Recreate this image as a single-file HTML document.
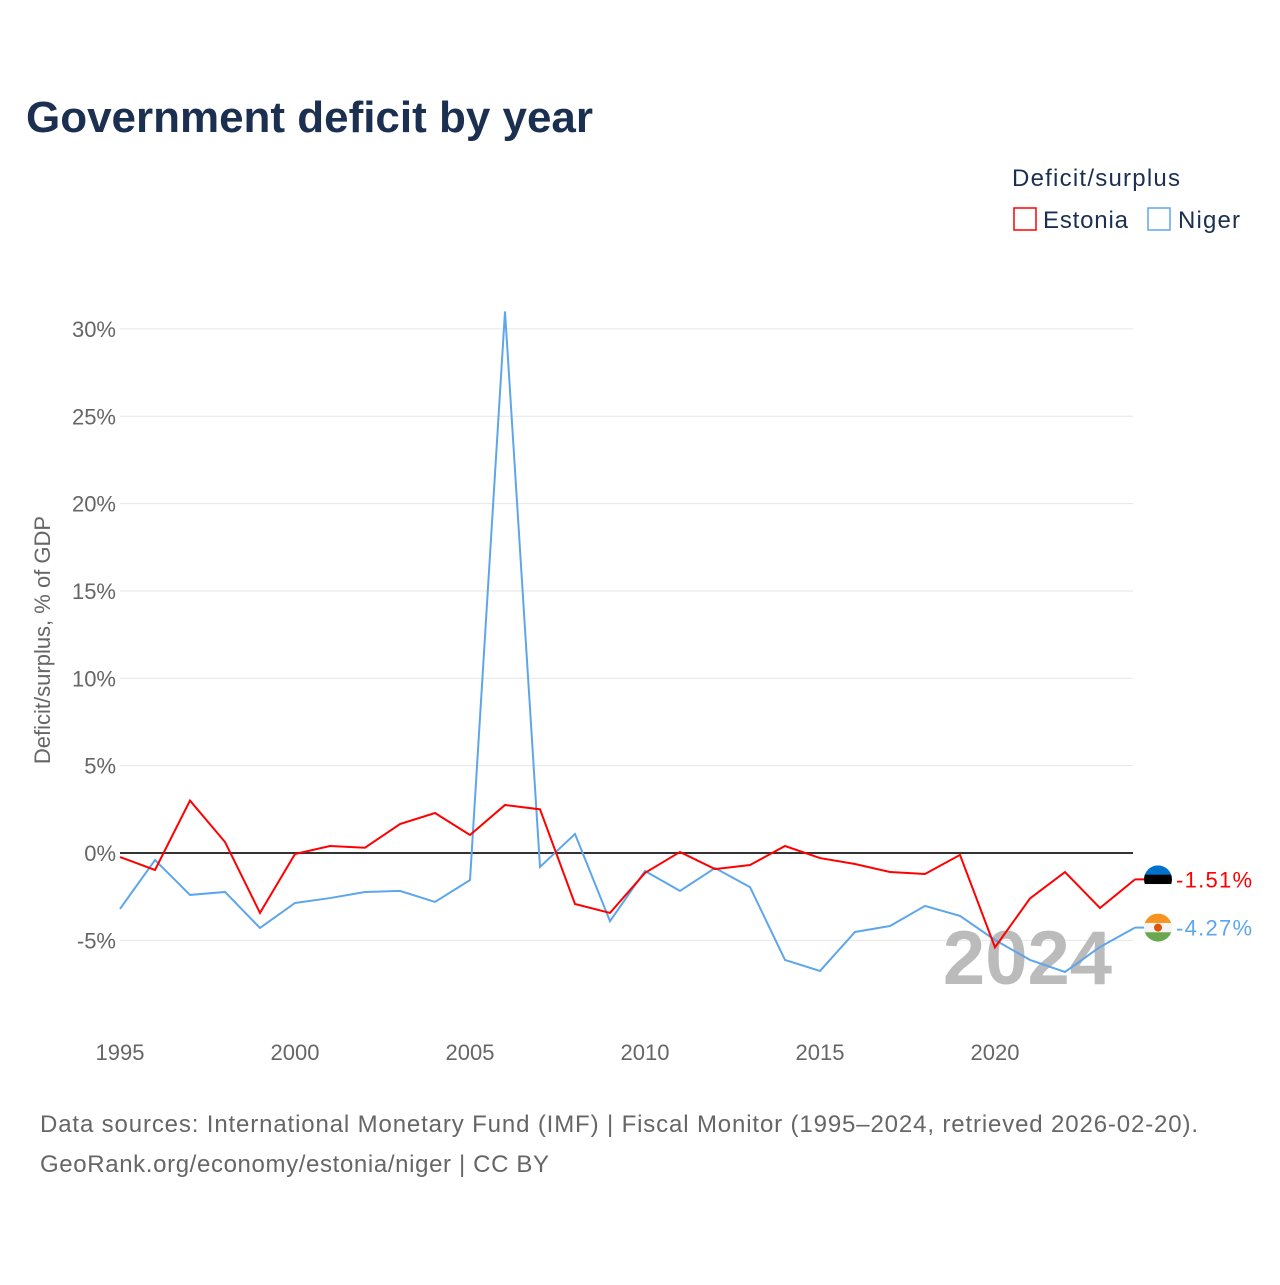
<!DOCTYPE html>
<html><head><meta charset="utf-8">
<style>
body{margin:0;background:#fff;font-family:"Liberation Sans",sans-serif;}
svg text{font-family:"Liberation Sans",sans-serif;}
</style></head>
<body>
<svg id="chart" width="1280" height="1280" viewBox="0 0 1280 1280">
<text x="26" y="132" font-size="44" font-weight="bold" fill="#1b3050" textLength="567">Government deficit by year</text>
<text x="1012" y="186" font-size="24" fill="#1b3050" textLength="168">Deficit/surplus</text>
<g>
<rect x="1014" y="208" width="22" height="22" fill="none" stroke="#ff0000" stroke-width="1.5"/>
<text x="1043" y="228" font-size="24" fill="#1b3050" textLength="85">Estonia</text></g>
<g>
<rect x="1148" y="208" width="22" height="22" fill="none" stroke="#5ea6ea" stroke-width="1.5"/>
<text x="1178" y="228" font-size="24" fill="#1b3050" textLength="62">Niger</text></g>
<text transform="translate(50,640) rotate(-90)" text-anchor="middle" font-size="22" fill="#666">Deficit/surplus, % of GDP</text>
<g id="grid"></g><g id="yticks"></g><g id="xticks"></g>
<text x="1112" y="984" text-anchor="end" font-size="76" font-weight="bold" fill="#bbb">2024</text>
<g id="series"></g>
<text x="40" y="1132" font-size="24" fill="#666" textLength="1158">Data sources: International Monetary Fund (IMF) | Fiscal Monitor (1995–2024, retrieved 2026-02-20).</text>
<text x="40" y="1172" font-size="24" fill="#666" textLength="509">GeoRank.org/economy/estonia/niger | CC BY</text>
</svg>
<script>
const years=[1995,1996,1997,1998,1999,2000,2001,2002,2003,2004,2005,2006,2007,2008,2009,2010,2011,2012,2013,2014,2015,2016,2017,2018,2019,2020,2021,2022,2023,2024];
const estonia=[-0.23,-0.97,3.0,0.63,-3.43,-0.06,0.4,0.3,1.66,2.29,1.03,2.75,2.5,-2.92,-3.43,-1.14,0.06,-0.92,-0.69,0.4,-0.29,-0.63,-1.09,-1.2,-0.11,-5.4,-2.6,-1.09,-3.15,-1.51];
const niger=[-3.2,-0.4,-2.4,-2.23,-4.29,-2.86,-2.58,-2.23,-2.17,-2.8,-1.55,31.0,-0.8,1.09,-3.9,-1.03,-2.17,-0.86,-1.95,-6.12,-6.75,-4.52,-4.18,-3.03,-3.6,-4.98,-6.12,-6.81,-5.38,-4.27];
const yTicks=[-5,0,5,10,15,20,25,30];
const xTicks=[1995,2000,2005,2010,2015,2020];
const NS="http://www.w3.org/2000/svg";
const X=y=>120+(y-1995)*35.0;
const Y=v=>853-v*17.47;
function mk(tag,attrs,parent){const e=document.createElementNS(NS,tag);for(const k in attrs)e.setAttribute(k,attrs[k]);parent.appendChild(e);return e;}
const grid=document.getElementById('grid'),yt=document.getElementById('yticks'),xt=document.getElementById('xticks'),ser=document.getElementById('series');
yTicks.forEach(t=>{
 const l=mk('line',{x1:120,x2:1133,y1:Y(t),y2:Y(t),stroke:t===0?'#333':'#e6e6e6','stroke-width':t===0?2:1},grid);
 
 
 const tx=mk('text',{x:116,y:Y(t)+8,'text-anchor':'end','font-size':22,fill:'#666'},yt);
 tx.textContent=t+'%';
 
 
});
xTicks.forEach(t=>{
 const tx=mk('text',{x:X(t),y:1060,'text-anchor':'middle','font-size':22,fill:'#666'},xt);
 tx.textContent=t;
 
 
});
function line(vals,color,name){
 const p=mk('polyline',{points:vals.map((v,i)=>X(years[i])+','+Y(v)).join(' '),fill:'none',stroke:color,'stroke-width':2},ser);
 
 
}
line(niger,'#5ea6ea','niger-line');
line(estonia,'#ff0000','estonia-line');
function endLabel(v,color,name,flag){
 const x=X(2024),y=Y(v);
 mk('line',{x1:x,x2:x+10,y1:y,y2:y,stroke:color,'stroke-width':2},ser);
 const g=mk('g',{},ser);
 
 
 const cx=x+23,r=14;
 const cp=mk('clipPath',{id:'c'+name},g);mk('circle',{cx:cx,cy:y,r:r},cp);
 flag.forEach((c,i)=>mk('rect',{x:cx-r,y:y-r+i*2*r/3,width:2*r,height:2*r/3+0.5,fill:c,'clip-path':'url(#c'+name+')'},g));
 if(name==='niger')mk('circle',{cx:cx,cy:y,r:4,fill:'#e05206'},g);
 const t=mk('text',{x:x+41,y:y+8,'font-size':22,fill:color,textLength:76},ser);
 t.textContent=v.toFixed(2)+'%';
 
 
}
endLabel(estonia[estonia.length-1],'#ff0000','estonia',['#0072ce','#000','#fff']);
endLabel(niger[niger.length-1],'#5ea6ea','niger',['#f7931e','#f4f4f4','#6aa84f']);
</script>
</body></html>
